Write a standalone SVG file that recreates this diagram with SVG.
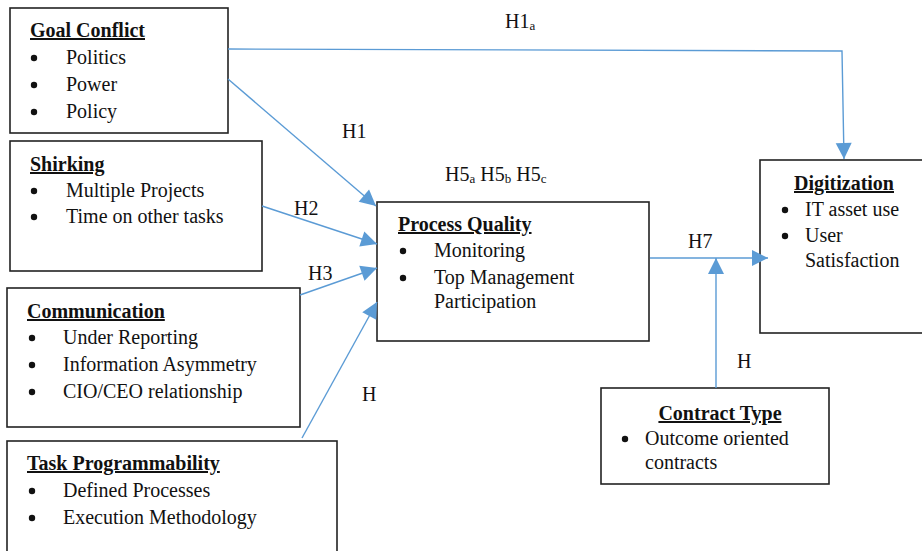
<svg xmlns="http://www.w3.org/2000/svg" width="922" height="551" viewBox="0 0 922 551">
<defs>
<marker id="arr" markerWidth="18" markerHeight="18" refX="16" refY="8" orient="auto" markerUnits="userSpaceOnUse" overflow="visible">
<path d="M0,0 L16,8 L0,16 z" fill="#5b9bd5"/>
</marker>
<style>
.box{fill:#fff;stroke:#222;stroke-width:1.6}
text{font-family:"Liberation Serif","Times New Roman",serif;font-size:20px;fill:#111}
.t{font-weight:bold;text-decoration:underline}
.c{stroke:#5b9bd5;stroke-width:1.4;fill:none}
.s{font-size:13px}
.b{fill:#111}
</style>
</defs>
<rect width="922" height="551" fill="#fff"/>
<g id="goal-conflict">
<rect class="box" x="10" y="8" width="218" height="125"/>
<text class="t" x="30" y="37">Goal Conflict</text>
<circle class="b" cx="34" cy="58" r="3.2"/><text x="66" y="64">Politics</text>
<circle class="b" cx="34" cy="85" r="3.2"/><text x="66" y="91">Power</text>
<circle class="b" cx="34" cy="112" r="3.2"/><text x="66" y="118">Policy</text>
</g>
<g id="shirking">
<rect class="box" x="10" y="141" width="252" height="130"/>
<text class="t" x="30" y="171">Shirking</text>
<circle class="b" cx="34" cy="191" r="3.2"/><text x="66" y="197">Multiple Projects</text>
<circle class="b" cx="34" cy="217" r="3.2"/><text x="66" y="223">Time on other tasks</text>
</g>
<g id="communication">
<rect class="box" x="7" y="288" width="293" height="139"/>
<text class="t" x="27" y="318">Communication</text>
<circle class="b" cx="32" cy="338" r="3.2"/><text x="63" y="344">Under Reporting</text>
<circle class="b" cx="32" cy="365" r="3.2"/><text x="63" y="371">Information Asymmetry</text>
<circle class="b" cx="32" cy="392" r="3.2"/><text x="63" y="398">CIO/CEO relationship</text>
</g>
<g id="task-programmability">
<rect class="box" x="7" y="441" width="330" height="120"/>
<text class="t" x="27" y="470">Task Programmability</text>
<circle class="b" cx="32" cy="491" r="3.2"/><text x="63" y="497">Defined Processes</text>
<circle class="b" cx="32" cy="518" r="3.2"/><text x="63" y="524">Execution Methodology</text>
</g>
<g id="process-quality">
<rect class="box" x="377" y="202" width="272" height="139"/>
<text class="t" x="398" y="231">Process Quality</text>
<circle class="b" cx="403" cy="251" r="3.2"/><text x="434" y="257">Monitoring</text>
<circle class="b" cx="403" cy="278" r="3.2"/><text x="434" y="284">Top Management</text>
<text x="434" y="308">Participation</text>
</g>
<g id="digitization">
<rect class="box" x="760" y="160" width="170" height="173"/>
<text class="t" x="844" y="190" text-anchor="middle">Digitization</text>
<circle class="b" cx="785" cy="210" r="3.2"/><text x="805" y="216">IT asset use</text>
<circle class="b" cx="785" cy="236" r="3.2"/><text x="805" y="242">User</text>
<text x="805" y="267">Satisfaction</text>
</g>
<g id="contract-type">
<rect class="box" x="601" y="388" width="228" height="96"/>
<text class="t" x="720" y="420" text-anchor="middle">Contract Type</text>
<circle class="b" cx="625" cy="439" r="3.2"/><text x="645" y="445">Outcome oriented</text>
<text x="645" y="469">contracts</text>
</g>
<g id="connectors">
<polyline class="c" points="228,49 842,51 844,159" marker-end="url(#arr)"/>
<line class="c" x1="228" y1="79" x2="376" y2="206" marker-end="url(#arr)"/>
<line class="c" x1="262" y1="206" x2="377" y2="244" marker-end="url(#arr)"/>
<line class="c" x1="300" y1="295" x2="377" y2="268" marker-end="url(#arr)"/>
<line class="c" x1="302" y1="438" x2="377" y2="302" marker-end="url(#arr)"/>
<line class="c" x1="650" y1="258" x2="768" y2="258" marker-end="url(#arr)"/>
<line class="c" x1="716" y1="388" x2="716" y2="258" marker-end="url(#arr)"/>
<text x="505" y="28">H1<tspan class="s" dy="2">a</tspan></text>
<text x="342" y="138">H1</text>
<text x="294" y="215">H2</text>
<text x="308" y="280">H3</text>
<text x="362" y="401">H</text>
<text x="445" y="181">H5<tspan class="s" dy="2">a</tspan><tspan dy="-2"> H5</tspan><tspan class="s" dy="2">b</tspan><tspan dy="-2"> H5</tspan><tspan class="s" dy="2">c</tspan></text>
<text x="688" y="248">H7</text>
<text x="737" y="368">H</text>
</g>
</svg>
